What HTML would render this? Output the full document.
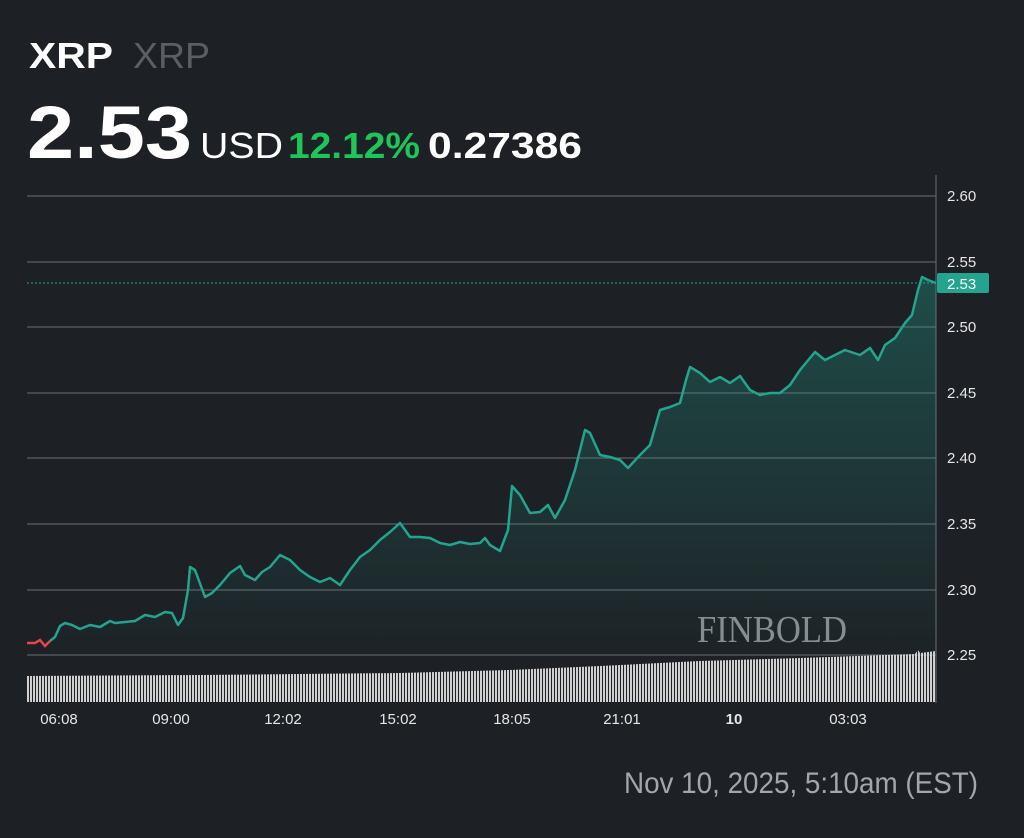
<!DOCTYPE html>
<html><head><meta charset="utf-8"><style>
body{margin:0;background:#1d2025;width:1024px;height:833px;overflow:hidden;font-family:"Liberation Sans",sans-serif}
</style></head><body>
<svg width="1024" height="833" xmlns="http://www.w3.org/2000/svg">
<defs>
<linearGradient id="g" x1="0" y1="0" x2="0" y2="1"><stop offset="0" stop-color="#22a08c" stop-opacity="0.35"/><stop offset="1" stop-color="#22a08c" stop-opacity="0.02"/></linearGradient>
<pattern id="vb" width="3" height="10" patternUnits="userSpaceOnUse"><rect x="0" y="0" width="2" height="10" fill="#d0d0d0"/></pattern>
</defs>
<rect width="1024" height="833" fill="#1d2025"/>
<text x="29" y="68" font-size="36" font-weight="bold" fill="#fff" textLength="84" lengthAdjust="spacingAndGlyphs">XRP</text>
<text x="133" y="68" font-size="36" fill="#5b5e63" textLength="77" lengthAdjust="spacingAndGlyphs">XRP</text>
<text x="27" y="158" font-size="74" font-weight="bold" fill="#fff" textLength="165" lengthAdjust="spacingAndGlyphs">2.53</text>
<text x="200" y="158" font-size="36" fill="#fff" textLength="83" lengthAdjust="spacingAndGlyphs">USD</text>
<text x="288" y="158" font-size="36" font-weight="bold" fill="#1ec65a" textLength="132" lengthAdjust="spacingAndGlyphs">12.12%</text>
<text x="428" y="158" font-size="36" font-weight="bold" fill="#fff" textLength="154" lengthAdjust="spacingAndGlyphs">0.27386</text>
<g stroke="#6b6e73" stroke-width="1">
<line x1="27" x2="936" y1="196" y2="196"/><line x1="27" x2="936" y1="262" y2="262"/><line x1="27" x2="936" y1="327" y2="327"/><line x1="27" x2="936" y1="393" y2="393"/><line x1="27" x2="936" y1="458" y2="458"/><line x1="27" x2="936" y1="524" y2="524"/><line x1="27" x2="936" y1="590" y2="590"/><line x1="27" x2="936" y1="655" y2="655"/>
<line x1="936" x2="936" y1="175" y2="703"/>
</g>
<g font-size="15" fill="#e6e6e6">
<text x="947" y="201">2.60</text><text x="947" y="267">2.55</text><text x="947" y="332">2.50</text><text x="947" y="398">2.45</text><text x="947" y="463">2.40</text><text x="947" y="529">2.35</text><text x="947" y="595">2.30</text><text x="947" y="660">2.25</text>
</g>
<polygon fill="url(#vb)" points="27,676 200,675 400,673 510,670 600,666 700,661 800,658 915,654 918,650 920,653 936,651 936,702 27,702"/>
<text x="697" y="642" font-family="Liberation Serif,serif" font-size="38" fill="#8a8d90" textLength="150" lengthAdjust="spacingAndGlyphs">FINBOLD</text>
<path fill="url(#g)" d="M50,641 L55,637 60,626 65,623 72,625 80,629 90,625 100,627 110,621 115,623 125,622 135,621 145,615 155,617 165,612 172,613 178,625 183,618 188,590 190,567 195,570 205,597 212,593 220,585 230,573 240,566 245,575 255,580 262,572 270,567 280,555 290,560 300,570 310,577 320,582 330,578 340,585 350,570 360,557 370,550 380,540 390,532 400,523 410,537 420,537 430,538 440,543 450,545 460,542 470,544 480,543 485,538 490,545 500,551 508,530 512,486 520,495 530,513 540,512 548,505 555,518 565,500 575,470 585,430 590,433 600,455 610,457 620,460 628,468 640,455 650,445 660,410 670,407 680,403 686,380 690,367 700,373 710,382 720,377 730,383 740,376 750,390 760,395 770,393 780,393 790,385 800,370 815,352 825,360 835,355 845,350 860,355 870,348 878,360 885,345 895,338 905,323 912,315 918,290 922,277 928,280 936,283 L936,655 L50,655Z"/>
<polyline fill="none" stroke="#24a48f" stroke-width="2.5" stroke-linejoin="round" points="50,641 55,637 60,626 65,623 72,625 80,629 90,625 100,627 110,621 115,623 125,622 135,621 145,615 155,617 165,612 172,613 178,625 183,618 188,590 190,567 195,570 205,597 212,593 220,585 230,573 240,566 245,575 255,580 262,572 270,567 280,555 290,560 300,570 310,577 320,582 330,578 340,585 350,570 360,557 370,550 380,540 390,532 400,523 410,537 420,537 430,538 440,543 450,545 460,542 470,544 480,543 485,538 490,545 500,551 508,530 512,486 520,495 530,513 540,512 548,505 555,518 565,500 575,470 585,430 590,433 600,455 610,457 620,460 628,468 640,455 650,445 660,410 670,407 680,403 686,380 690,367 700,373 710,382 720,377 730,383 740,376 750,390 760,395 770,393 780,393 790,385 800,370 815,352 825,360 835,355 845,350 860,355 870,348 878,360 885,345 895,338 905,323 912,315 918,290 922,277 928,280 936,283"/>
<polyline fill="none" stroke="#e04848" stroke-width="2.5" points="27,643 35,643 40,640 45,646 50,641"/>
<line x1="27" x2="936" y1="283" y2="283" stroke="#24a48f" stroke-width="1" stroke-dasharray="2,2"/>
<rect x="937" y="273" width="52" height="20" rx="2" fill="#24a48f"/>
<text x="947" y="289" font-size="15" fill="#fff">2.53</text>
<g font-size="15" fill="#e6e6e6" text-anchor="middle">
<text x="59" y="724">06:08</text><text x="171" y="724">09:00</text><text x="283" y="724">12:02</text><text x="398" y="724">15:02</text><text x="512" y="724">18:05</text><text x="622" y="724">21:01</text><text x="734" y="724" font-weight="bold">10</text><text x="848" y="724">03:03</text>
</g>
<text x="624" y="793" font-size="30" fill="#a3a6aa" textLength="354" lengthAdjust="spacingAndGlyphs">Nov 10, 2025, 5:10am (EST)</text>
</svg>
</body></html>
